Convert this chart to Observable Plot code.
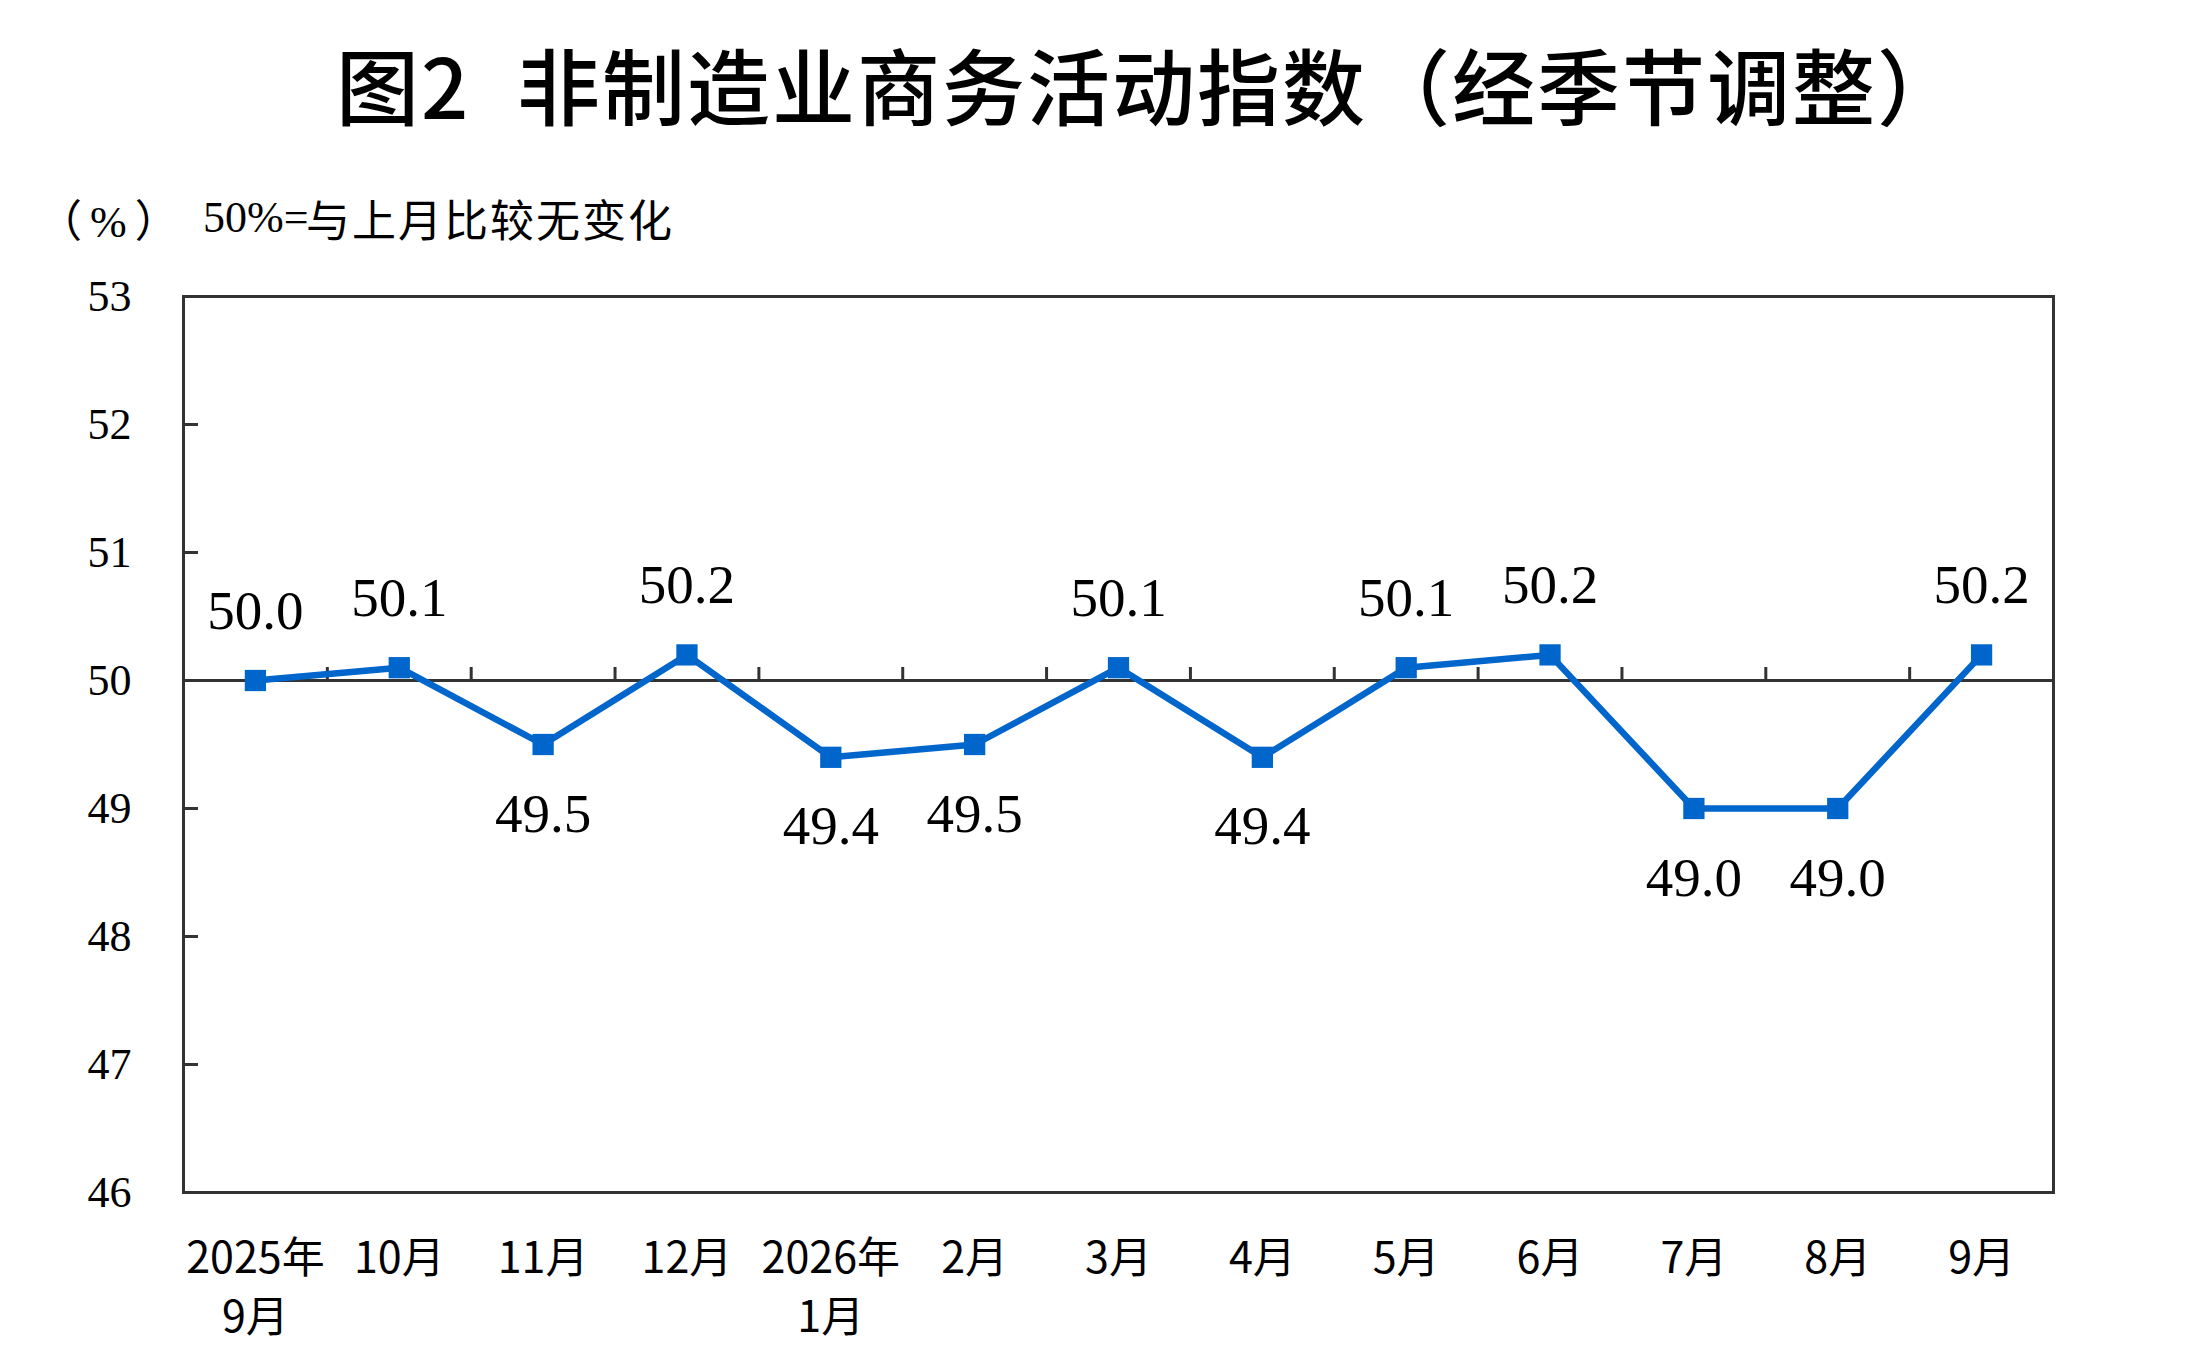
<!DOCTYPE html>
<html>
<head>
<meta charset="utf-8">
<script src="https://cdn.jsdelivr.net/npm/d3@7"></script>
<script src="https://cdn.jsdelivr.net/npm/@observablehq/plot@0.6"></script>
<style>
  html, body { margin: 0; padding: 0; background: #fff; }
  #page { position: relative; width: 2212px; height: 1372px; overflow: hidden; background: #fff; }
  #title { position: absolute; left: 336px; top: 42px; font-family: "Noto Sans CJK SC", sans-serif; font-weight: 500; font-size: 83px; line-height: 83px; color: #000; white-space: nowrap; word-spacing: 26px; letter-spacing: 2px; }
  .sub { position: absolute; top: 196px; font-size: 44px; line-height: 44px; color: #000; white-space: nowrap; }
  .cjk { font-family: "Noto Sans CJK SC", sans-serif; }
  .ser { font-family: "Liberation Serif", serif; }
  #sub1 { letter-spacing: 8px; }
  #sub3 { letter-spacing: 2px; }
  #chart { position: absolute; left: 0; top: 250px; }
</style>
</head>
<body>
<div id="page">
  <div id="title">图2 非制造业商务活动指数（经季节调整）</div>
  <div class="sub" id="sub1" style="left:38px"><span class="cjk">（</span><span class="ser">%</span><span class="cjk">）</span></div>
  <div class="sub ser" style="left:203px">50%=</div>
  <div class="sub cjk" id="sub3" style="left:306px">与上月比较无变化</div>
  <div id="chart"></div>
</div>
<script>
// Data
const months = ["2025年\n9月", "10月", "11月", "12月", "2026年\n1月", "2月", "3月", "4月", "5月", "6月", "7月", "8月", "9月"];
const pmi = [50.0, 50.1, 49.5, 50.2, 49.4, 49.5, 50.1, 49.4, 50.1, 50.2, 49.0, 49.0, 50.2];
const yTicks = [46, 47, 48, 49, 50, 51, 52, 53];
const baseline = 50;

const data = months.map((m, i) => ({i, month: m, value: pmi[i]}));
const above = data.filter(d => d.value >= baseline);
const below = data.filter(d => d.value < baseline);
const bounds = d3.range(months.length - 1).map(i => i + 0.5);

const blue = "#0066cc";
const dark = "#333333";
const serif = "Liberation Serif, Times New Roman, serif";

const chart = Plot.plot({
  width: 2212,
  height: 1122,
  marginLeft: 183,
  marginRight: 159,
  marginTop: 46,
  marginBottom: 180,
  style: {background: "white", color: "#000", overflow: "visible"},
  x: {type: "linear", domain: [-0.5, months.length - 0.5], label: null, axis: null},
  y: {domain: [46, 53], label: null, axis: null},
  marks: [
    Plot.ruleY([baseline], {stroke: dark, strokeWidth: 3}),
    Plot.ruleX(bounds, {x: d => d, y1: baseline, y2: baseline, insetTop: -13, stroke: dark, strokeWidth: 3}),
    Plot.ruleY(yTicks, {y: d => d, x1: -0.5, x2: -0.5, insetRight: -15, stroke: dark, strokeWidth: 3}),
    Plot.frame({stroke: dark, strokeWidth: 3}),
    // y tick labels
    Plot.text(yTicks, {y: d => d, text: d => String(d), frameAnchor: "left", textAnchor: "end", dx: -52, fontSize: 44, fontFamily: serif, fill: "#000"}),
    // x tick labels
    Plot.text(data, {x: "i", text: "month", frameAnchor: "bottom", lineAnchor: "top", dy: 39, fontSize: 43, lineHeight: 1.37, fontFamily: "Noto Sans CJK SC, sans-serif", fill: "#000"}),
    Plot.line(data, {x: "i", y: "value", stroke: blue, strokeWidth: 6.5}),
    Plot.dot(data, {x: "i", y: "value", symbol: "square", r: 12, fill: blue, stroke: "none"}),
    Plot.text(above, {x: "i", y: "value", text: d => d.value.toFixed(1), lineAnchor: "bottom", dy: -52, fontSize: 55, fontFamily: serif, fill: "#000"}),
    Plot.text(below, {x: "i", y: "value", text: d => d.value.toFixed(1), lineAnchor: "bottom", dy: 87, fontSize: 55, fontFamily: serif, fill: "#000"})
  ]
});
document.getElementById("chart").appendChild(chart);
</script>
</body>
</html>
